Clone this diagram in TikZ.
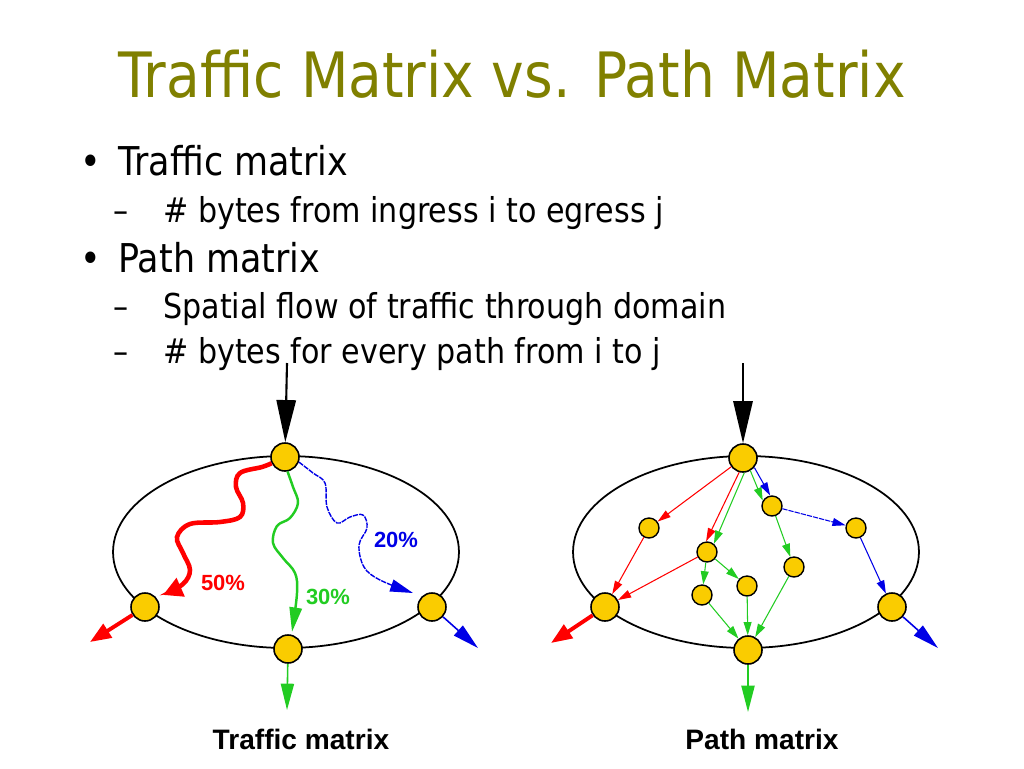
\documentclass[tikz,border=0pt]{standalone}
\usepackage{fontspec}
\setmainfont{DejaVu Sans}[FakeStretch=0.88]
\newfontfamily\arialfont{Liberation Sans}
\usetikzlibrary{arrows.meta, positioning}
\definecolor{titolo}{RGB}{128,128,0}
\definecolor{oro}{RGB}{250,204,0}
\definecolor{rosso}{RGB}{255,0,0}
\definecolor{verde}{RGB}{34,204,34}
\definecolor{blu}{RGB}{0,0,230}

\begin{document}
\begin{tikzpicture}[x=0.02cm, y=-0.02cm,
			% Stile dei testi
			testo/.style={anchor=base west, inner sep=0pt},
			voce/.style={testo, font=\fontsize{22.6}{26}\selectfont},
			sottovoce/.style={testo, font=\fontsize{19.5}{23}\selectfont},
			% Stile dei router
			router/.style={circle, draw, fill=oro, line width=0.9pt, minimum size=0.56cm, inner sep=0pt},
			piccolo/.style={router, minimum size=0.4cm, line width=0.8pt},
			% Stile delle frecce
			freccia/.style={-{Triangle[length=7.5pt, width=4.5pt]}, line width=0.6pt},
			uscita/.style={-{Triangle[length=15pt, width=7.5pt]}, line width=0.9pt},
			ingresso/.style={-{Triangle[length=24pt, width=11pt]}, line width=1.2pt},
			perc/.style={inner sep=0pt, font=\arialfont\bfseries\fontsize{12.5}{14}\selectfont},
			didascalia/.style={anchor=base, inner sep=0pt, font=\arialfont\bfseries\fontsize{16}{18}\selectfont}
			]
			\useasboundingbox (0,0) rectangle (1024,768);
			
			% --- TITOLO E ELENCO ---
			\node [anchor=base, inner sep=0pt, text=titolo, font=\fontsize{35.6}{40}\selectfont] (titolo) at (512,97) {Traffic Matrix vs. Path Matrix};
			\node [voce, anchor=base] (p1) at (91,175) {\textbullet};
			\node [voce] (v1) at (118,175) {Traffic matrix};
			\node [sottovoce] (t1) at (113,222) {--};
			\node [sottovoce] (s1) at (163,222) {\# bytes from ingress i to egress j};
			\node [voce, anchor=base] (p2) at (91,272) {\textbullet};
			\node [voce] (v2) at (118,272) {Path matrix};
			\node [sottovoce] (t2) at (113,318) {--};
			\node [sottovoce] (s2) at (163,318) {Spatial flow of traffic through domain};
			\node [sottovoce] (t3) at (113,363) {--};
			\node [sottovoce] (s3) at (163,363) {\# bytes for every path from i to j};
			
			% --- PRIMO GRAFICO (Traffic matrix) ---
			\draw [line width=1pt] (286,552) ellipse [x radius=3.46cm, y radius=1.92cm];
			\coordinate (in1) at (287,363);
			\coordinate (os1) at (90,642);
			\coordinate (ob1) at (287,710);
			\coordinate (od1) at (478,648);
			\node [router] (a1) at (285,457) {};
			\node [router] (sx1) at (145,607) {};
			\node [router] (b1) at (288,649) {};
			\node [router] (dx1) at (432,607) {};
			
			\draw [ingresso] (in1) -- (a1);
			\draw [uscita, rosso, line width=2.2pt, -{Triangle[length=12pt, width=9pt]}] (sx1) -- (os1);
			\draw [uscita, verde] (b1) -- (ob1);
			\draw [uscita, blu] (dx1) -- (od1);
			
			\draw [rosso, line width=2.6pt, -{Triangle[length=11pt, width=11pt]}] plot [smooth, tension=0.6] coordinates {(a1.205) (262,467) (240,473) (236,487) (243,503) (240,517) (220,522) (190,524) (177,537) (183,553) (190,570) (183,584) (163,595)};
			\draw [verde, line width=1.4pt, -{Triangle[length=14pt, width=7pt]}] plot [smooth, tension=0.6] coordinates {(a1.280) (293,487) (298,503) (290,518) (277,526) (273,543) (283,558) (295,573) (297,593) (292,632)};
			\draw [blu, line width=0.8pt, dash pattern=on 3pt off 0.6pt, -{Triangle[length=13pt, width=7pt]}] plot [smooth, tension=0.6] coordinates {(a1.340) (313,473) (325,483) (327,507) (337,523) (350,517) (363,515) (367,528) (359,545) (364,567) (380,580) (413,593)};
			
			\node [perc, rosso] (p50) at (223,583) {50\%};
			\node [perc, verde] (p30) at (328,597) {30\%};
			\node [perc, blu] (p20) at (396,540) {20\%};
			\node [didascalia] (cap1) at (301,749) {Traffic matrix};
			
			% --- SECONDO GRAFICO (Path matrix) ---
			\draw [line width=1pt] (746,552) ellipse [x radius=3.46cm, y radius=1.92cm];
			\coordinate (in2) at (743,363);
			\coordinate (os2) at (551,643);
			\coordinate (ob2) at (748,712);
			\coordinate (od2) at (938,648);
			\node [router] (a2) at (743,458) {};
			\node [router] (sx2) at (605,607) {};
			\node [router] (b2) at (748,650) {};
			\node [router] (dx2) at (892,607) {};
			\node [piccolo] (nA) at (772,506) {};
			\node [piccolo] (nB) at (856,528) {};
			\node [piccolo] (nC) at (649,528) {};
			\node [piccolo] (nD) at (707,552) {};
			\node [piccolo] (nE) at (794,567) {};
			\node [piccolo] (nF) at (747,586) {};
			\node [piccolo] (nG) at (702,595) {};
			
			\draw [ingresso] (in2) -- (a2);
			\draw [uscita, rosso, line width=2.2pt, -{Triangle[length=12pt, width=9pt]}] (sx2) -- (os2);
			\draw [uscita, verde] (b2) -- (ob2);
			\draw [uscita, blu] (dx2) -- (od2);
			
			% percorsi rossi
			\draw [freccia, rosso] (a2) -- (nC);
			\draw [freccia, rosso] (a2.255) -- (nD.95);
			\draw [freccia, rosso] (nC) -- (sx2);
			\draw [freccia, rosso] (nD) -- (sx2);
			% percorsi verdi
			\draw [freccia, verde] (a2.275) -- (nD.50);
			\draw [freccia, verde] (a2.300) -- (nA.150);
			\draw [freccia, verde] (nD) -- (nG);
			\draw [freccia, verde] (nD) -- (nF);
			\draw [freccia, verde] (nA) -- (nE);
			\draw [freccia, verde] (nG) -- (b2);
			\draw [freccia, verde] (nF) -- (b2);
			\draw [freccia, verde] (nE) -- (b2);
			% percorsi blu
			\draw [freccia, blu] (a2.320) -- (nA.100);
			\draw [freccia, blu, dash pattern=on 3pt off 0.6pt] (nA) -- (nB);
			\draw [freccia, blu] (nB) -- (dx2);
			
			\node [didascalia] (cap2) at (762,749) {Path matrix};
			
		\end{tikzpicture}
\end{document}
